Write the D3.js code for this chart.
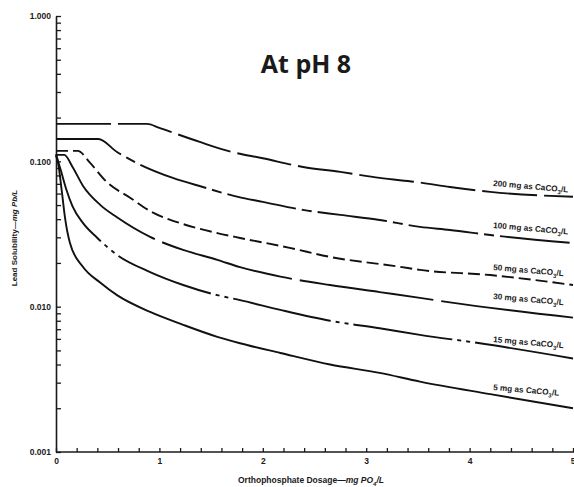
<!DOCTYPE html>
<html>
<head>
	<meta charset="UTF-8">
	<title>Lead Solubility at pH 8</title>
	<script src="https://d3js.org/d3.v7.min.js"></script>
	<style>
		body { margin: 0; background: #fff; }
		text { font-family: "Liberation Sans", Arial, sans-serif; fill: #1a1a1a; }
	</style>
</head>
<body>
	<div id="chart"></div>

	<script>
		// [orthophosphate dosage (mg PO4/L), lead solubility (mg Pb/L)], one curve per alkalinity
		let curve200 = [[0, 0.181], [0.88, 0.181], [1.0, 0.170], [1.17, 0.154], [1.39, 0.136], [1.68, 0.117], [2.0, 0.105], [2.39, 0.0915], [2.75, 0.0846], [3.13, 0.0769], [3.52, 0.0715], [3.81, 0.0666], [4.2, 0.0616], [5.0, 0.057]];
		let curve100 = [[0, 0.1426], [0.41, 0.1426], [0.59, 0.116], [0.78, 0.0975], [1.13, 0.0769], [1.42, 0.0666], [1.76, 0.0569], [2.0, 0.0526], [2.39, 0.0463], [2.75, 0.0428], [3.13, 0.0395], [3.52, 0.0354], [3.81, 0.0337], [4.2, 0.0311], [5.0, 0.0274]];
		let curve50 = [[0, 0.118], [0.21, 0.118], [0.33, 0.0975], [0.49, 0.0722], [0.72, 0.056], [0.91, 0.0455], [1.23, 0.037], [1.56, 0.0321], [1.78, 0.0297], [2.26, 0.0254], [2.65, 0.022], [3.33, 0.0188], [3.52, 0.0179], [4.2, 0.0165], [5.0, 0.0141]];
		let curve30 = [[0, 0.1107], [0.08, 0.1107], [0.16, 0.0915], [0.26, 0.068], [0.43, 0.05], [0.59, 0.0412], [0.91, 0.0302], [1.23, 0.0246], [1.56, 0.021], [1.78, 0.0187], [2.17, 0.0161], [2.65, 0.0141], [3.13, 0.0126], [3.52, 0.0115], [3.81, 0.0107], [5.0, 0.0084]];
		let curve15 = [[0, 0.112], [0.05, 0.085], [0.1, 0.064], [0.16, 0.049], [0.26, 0.0377], [0.4, 0.0297], [0.59, 0.0227], [0.91, 0.0173], [1.23, 0.0141], [1.56, 0.012], [1.78, 0.0111], [2.17, 0.0095], [2.65, 0.0080], [3.13, 0.0071], [3.52, 0.0064], [4.1, 0.0056], [5.0, 0.0044]];
		let curve5 = [[0, 0.11], [0.02, 0.0975], [0.058, 0.0606], [0.087, 0.041], [0.135, 0.0274], [0.26, 0.0188], [0.43, 0.0146], [0.59, 0.012], [0.91, 0.0092], [1.23, 0.0075], [1.56, 0.0062], [1.78, 0.0056], [2.17, 0.0048], [2.65, 0.0040], [3.13, 0.0035], [3.52, 0.00305], [4.2, 0.0025], [5.0, 0.002]];

		let hardness = ["200", "100", "50", "30", "15", "5"];
		// solubility level where each curve label starts (left end of its baseline)
		let labelLevels = [0.0677, 0.0348, 0.0179, 0.0113, 0.00571, 0.00267];

		let yMajorTicks = [0.001, 0.01, 0.1, 1];
		let yTickLabels = ["0.001", "0.010", "0.100", "1.000"];
		let xMajorTicks = [0, 1, 2, 3, 4, 5];

		let width = 574;
		let height = 487;

		let svg = d3.select("#chart").append("svg")
			.attr("width", width)
			.attr("height", height);

		let x = d3.scaleLinear().domain([0, 5]).range([56, 573]);
		let y = d3.scaleLog().domain([0.001, 1]).range([452, 16]);

		// minor ticks 1..9 in every decade
		let yAllTicks = [];
		[0.001, 0.01, 0.1].forEach(d => {
			for (let k = 1; k < 10; k++) yAllTicks.push(d * k);
		});
		yAllTicks.push(1);

		let xAllTicks = d3.range(0, 26).map(i => i / 5);

		let yAxis = d3.axisLeft(y)
			.tickValues(yAllTicks)
			.tickSizeInner(-5)
			.tickSizeOuter(0)
			.tickPadding(5)
			.tickFormat(d => {
				let i = yMajorTicks.findIndex(m => Math.abs(m - d) < d * 1e-6);
				return i >= 0 ? yTickLabels[i] : "";
			});

		let xAxis = d3.axisBottom(x)
			.tickValues(xAllTicks)
			.tickSizeInner(-4)
			.tickSizeOuter(0)
			.tickPadding(6)
			.tickFormat(d => xMajorTicks.includes(d) ? String(d) : "");

		let gy = svg.append("g")
			.attr("transform", "translate(56,0)")
			.call(yAxis);
		let gx = svg.append("g")
			.attr("transform", "translate(0,452)")
			.call(xAxis);

		[gx, gy].forEach(g => {
			g.select(".domain").attr("stroke", "#1a1a1a").attr("stroke-width", 1.6);
			g.selectAll(".tick line").attr("stroke", "#1a1a1a").attr("stroke-width", 1.3);
			g.selectAll(".tick text")
				.attr("font-family", "Liberation Sans, Arial, sans-serif")
				.attr("font-size", 8.5)
				.attr("font-weight", "bold")
				.attr("fill", "#1a1a1a");
		});
		// x axis line runs to the picture edge; keep the last label inside
		gx.select(".domain").attr("d", "M56,0H574");
		gx.selectAll(".tick text").filter(d => d === 5).attr("text-anchor", "end").attr("dx", 2);

		// curves
		let curves = [curve200, curve100, curve50, curve30, curve15, curve5];
		let dashes = ["55,7", "70,6,10,6", "12,5", "135,8", "100,5,4,5,4,5", null];

		let line = d3.line()
			.x(d => x(d[0]))
			.y(d => y(d[1]))
			.curve(d3.curveMonotoneX);

		svg.selectAll(".curve")
			.data(curves)
			.join("path")
			.attr("class", "curve")
			.attr("d", line)
			.attr("fill", "none")
			.attr("stroke", "#111")
			.attr("stroke-width", 1.9)
			.attr("stroke-dasharray", (_, i) => dashes[i]);

		// curve labels
		let labels = svg.selectAll(".curvelabel")
			.data(hardness)
			.join("text")
			.attr("class", "curvelabel")
			.attr("x", 493)
			.attr("y", (_, i) => y(labelLevels[i]))
			.attr("transform", (_, i) => `rotate(5, 493, ${y(labelLevels[i])})`)
			.attr("font-size", 8.2)
			.attr("font-weight", "bold");
		labels.append("tspan").text(d => d + " mg as CaCO");
		labels.append("tspan").attr("dy", 2.5).attr("font-size", 6).text("3");
		labels.append("tspan").attr("dy", -2.5).text("/L");

		// axis titles
		let yTitle = svg.append("text")
			.attr("transform", "translate(17,238) rotate(-90)")
			.attr("text-anchor", "middle")
			.attr("font-size", 8)
			.attr("font-weight", "bold");
		yTitle.append("tspan").text("Lead Solubility—");
		yTitle.append("tspan").attr("font-style", "italic").text("mg Pb/L");

		let xTitle = svg.append("text")
			.attr("x", 311)
			.attr("y", 483)
			.attr("text-anchor", "middle")
			.attr("font-size", 8.5)
			.attr("font-weight", "bold");
		xTitle.append("tspan").text("Orthophosphate Dosage—");
		xTitle.append("tspan").attr("font-style", "italic").text("mg PO");
		xTitle.append("tspan").attr("font-style", "italic").attr("dy", 2.5).attr("font-size", 6).text("4");
		xTitle.append("tspan").attr("font-style", "italic").attr("dy", -2.5).text("/L");

		svg.append("text")
			.attr("x", 306)
			.attr("y", 73)
			.attr("text-anchor", "middle")
			.attr("font-size", 25)
			.attr("font-weight", "bold")
			.style("font-family", "'Open Sans', sans-serif")
			.attr("fill", "#000")
			.text("At pH 8");
	</script>
</body>
</html>
